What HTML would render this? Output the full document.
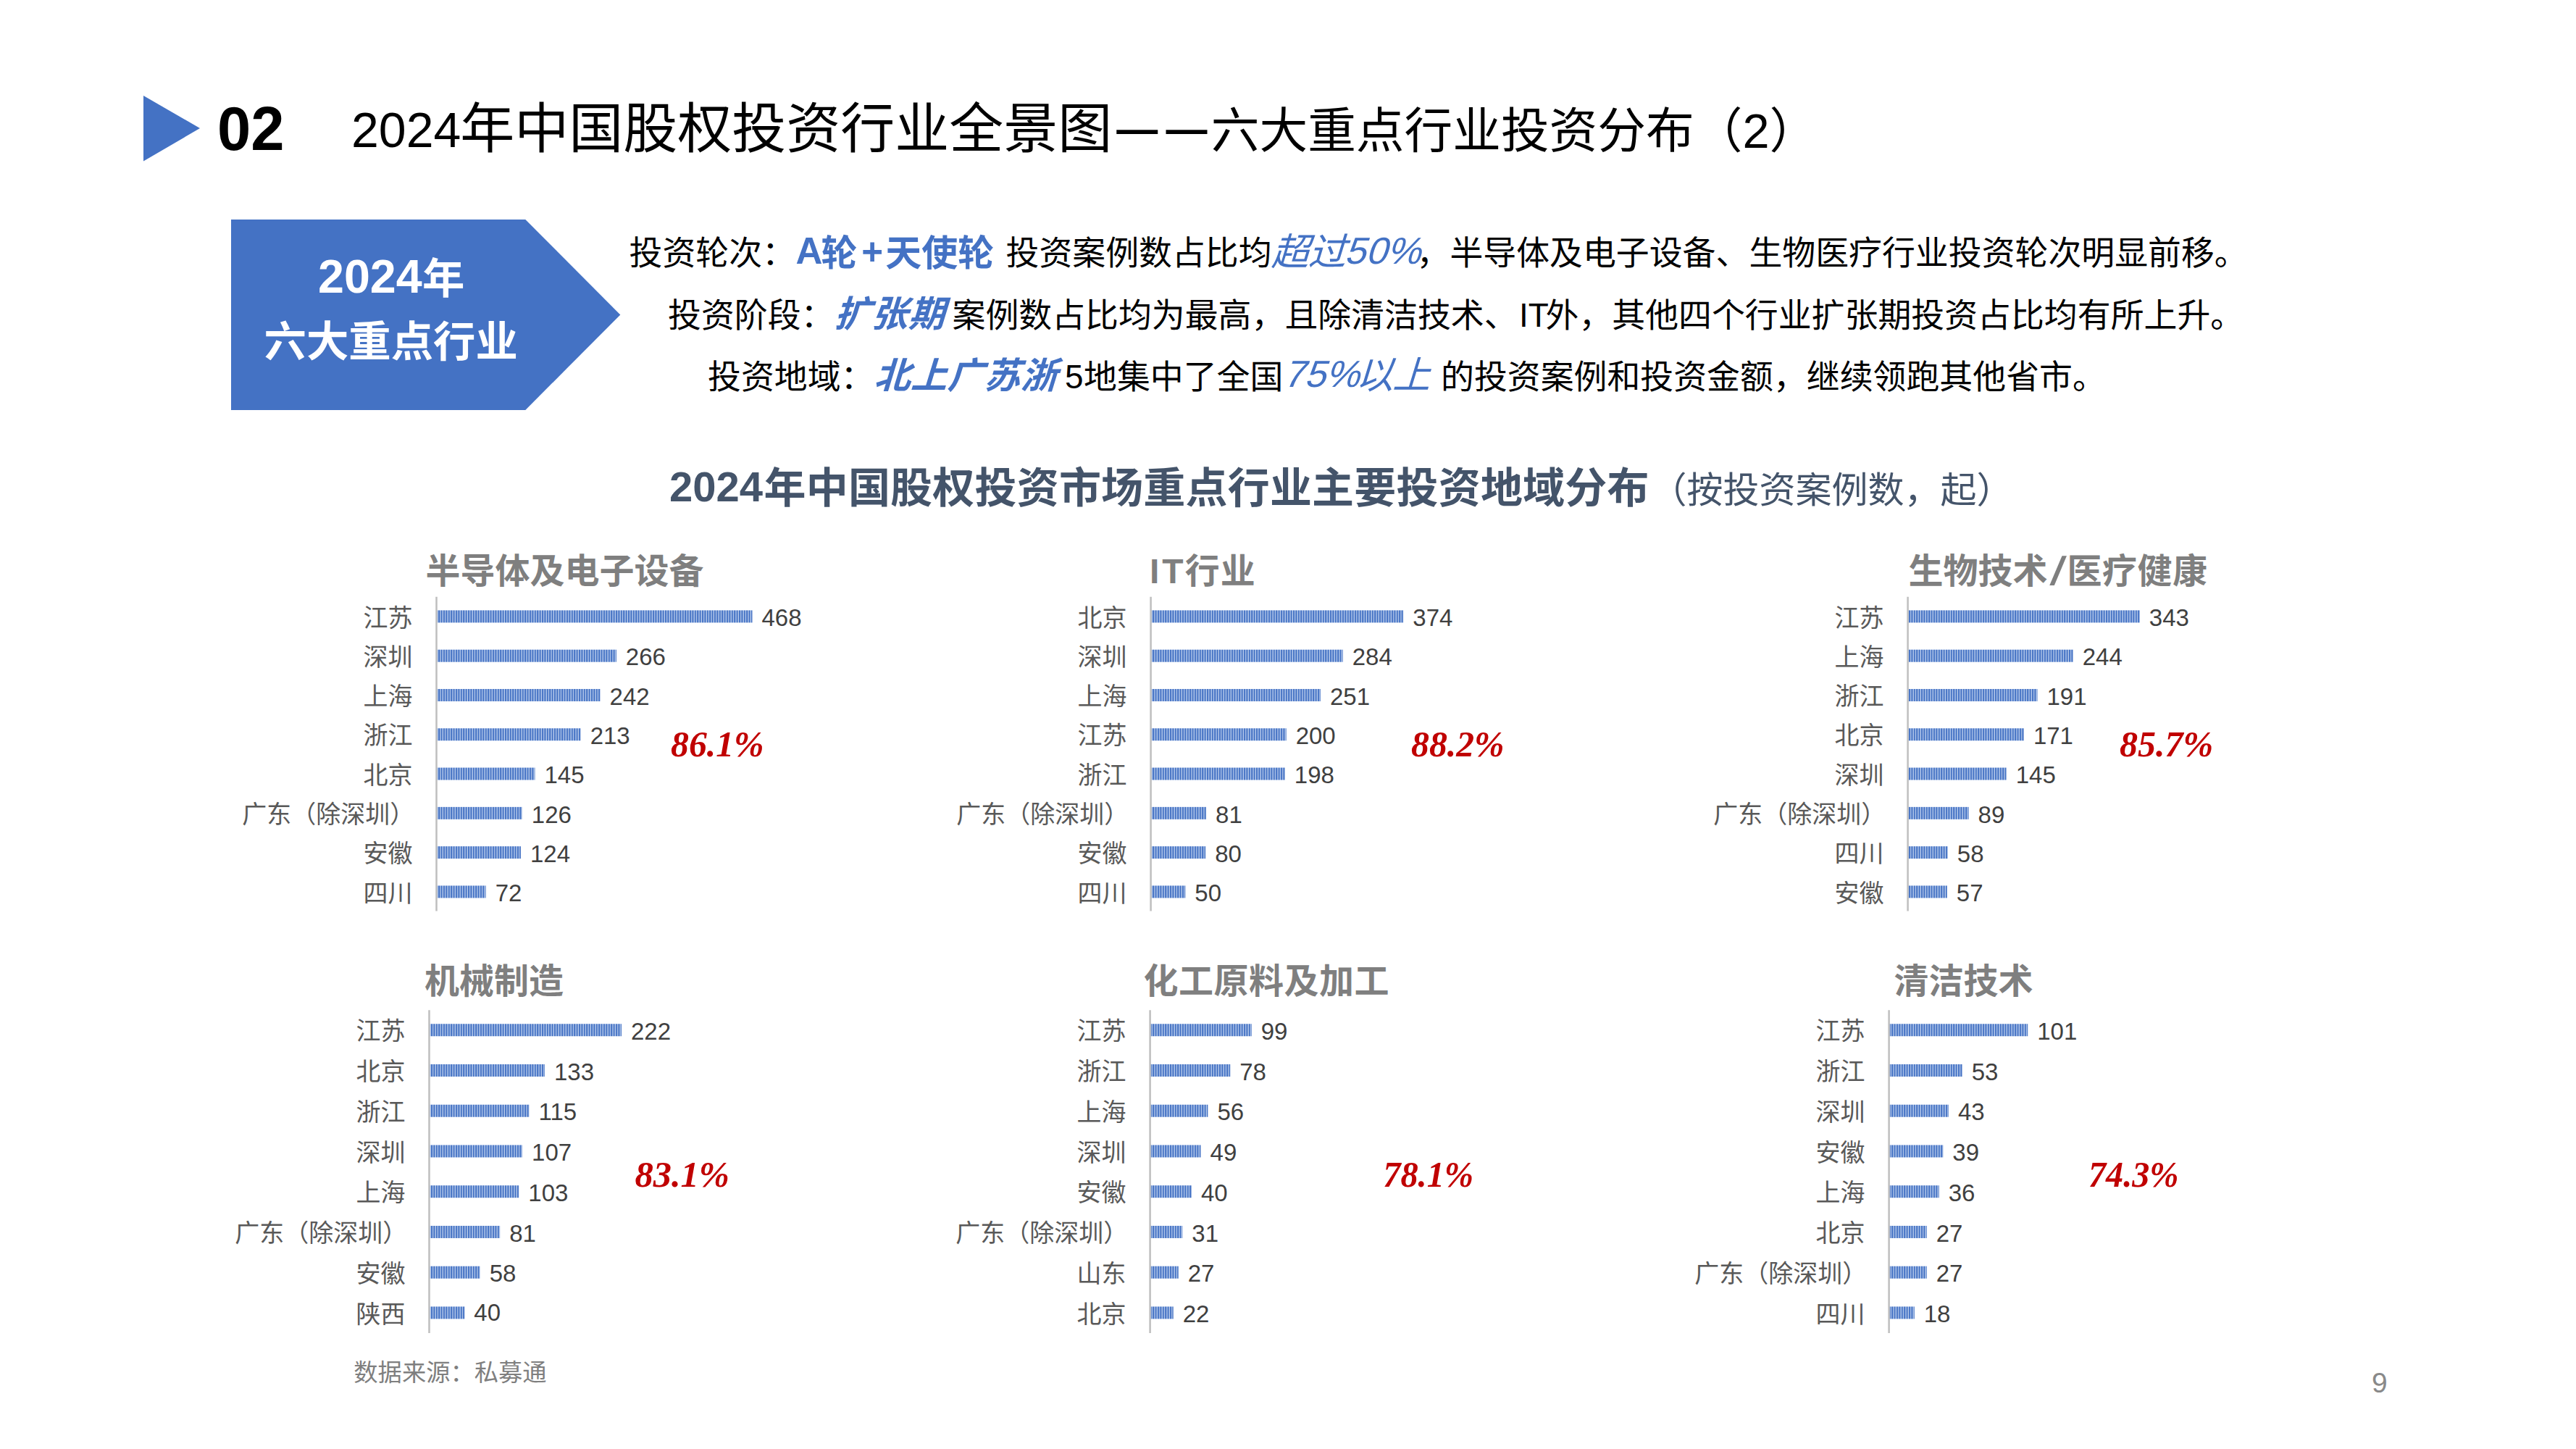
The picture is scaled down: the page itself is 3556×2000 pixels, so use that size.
<!DOCTYPE html>
<html lang="zh-CN"><head><meta charset="utf-8"><title>2024年中国股权投资行业全景图——六大重点行业投资分布（2）</title>
<style>
html,body{margin:0;padding:0;background:#fff;}
body{width:3556px;height:2000px;overflow:hidden;}
svg{display:block;}
svg{font-family:"Liberation Sans","Noto Sans CJK SC",sans-serif;}
svg text{white-space:pre;}
</style></head><body>
<svg width="3556" height="2000" viewBox="0 0 3556 2000">
<defs>
<pattern id="st" patternUnits="userSpaceOnUse" x="0" y="0" width="3.4" height="40">
<rect x="0" y="0" width="3.4" height="40" fill="#BED0EE"/>
<rect x="0" y="0" width="2.1" height="40" fill="#4472C4"/>
</pattern>
</defs>
<rect x="0" y="0" width="3556" height="2000" fill="#fff"/>
<polygon points="198,132 276,177 198,222.5" fill="#4472C4"/>
<text x="300.00" y="207.30" font-size="86" font-weight="bold" textLength="92.5" lengthAdjust="spacingAndGlyphs">02</text>
<text x="485.00" y="203.20" font-size="68">2024</text>
<text x="635.20" y="204.00" font-size="75" style='font-family:"Liberation Sans","Noto Sans CJK SC",sans-serif'>年中国股权投资行业全景图</text>
<text x="1541.25" y="198.40" font-size="57" font-weight="bold">—</text>
<text x="1609.50" y="198.40" font-size="57" font-weight="bold">—</text>
<text x="1671.75" y="204.00" font-size="66.7" style='font-family:"Liberation Sans","Noto Sans CJK SC",sans-serif'>六大重点行业投资分布（</text>
<text x="2405.50" y="204.00" font-size="66.7">2</text>
<text x="2442.50" y="204.00" font-size="66.7" style='font-family:"Liberation Sans","Noto Sans CJK SC",sans-serif'>）</text>
<polygon points="319,303 725.3,303 856.3,434.4 725.3,566 319,566" fill="#4472C4"/>
<text x="439.00" y="403.60" font-size="64.6" fill="#fff" font-weight="bold">2024</text>
<text x="583.00" y="404.50" font-size="58.4" fill="#fff" font-weight="bold" style='font-family:"Liberation Sans","Noto Sans CJK SC",sans-serif'>年</text>
<text x="364.50" y="492.30" font-size="58.4" fill="#fff" font-weight="bold" style='font-family:"Liberation Sans","Noto Sans CJK SC",sans-serif'>六大重点行业</text>
<text x="868.50" y="364.70" font-size="45.9" style='font-family:"Liberation Sans","Noto Sans CJK SC",sans-serif'>投资轮次：</text>
<text x="1098.50" y="364.20" font-size="51" fill="#4472C4" font-weight="bold">A</text>
<text x="1133.50" y="366.80" font-size="50" fill="#4472C4" font-weight="bold" style='font-family:"Liberation Sans","Noto Sans CJK SC",sans-serif'>轮</text>
<text x="1189.20" y="364.50" font-size="51" fill="#4472C4" font-weight="bold">+</text>
<text x="1222.30" y="366.80" font-size="50" fill="#4472C4" font-weight="bold" style='font-family:"Liberation Sans","Noto Sans CJK SC",sans-serif' letter-spacing="0">天使轮</text>
<text x="1388.50" y="364.70" font-size="45.9" style='font-family:"Liberation Sans","Noto Sans CJK SC",sans-serif'>投资案例数占比均</text>
<g transform="translate(1754.40,365.90) skewX(-17)">
<text x="0.00" y="0.00" font-size="52" fill="#4472C4" style='font-family:"Liberation Sans","Noto Sans CJK SC",sans-serif' letter-spacing="-1">超过</text>
</g>
<g transform="translate(1855.50,364.20) skewX(-17)">
<text x="0.00" y="0.00" font-size="52" fill="#4472C4" letter-spacing="0.3">50%</text>
</g>
<text x="1955.50" y="364.70" font-size="45.9" style='font-family:"Liberation Sans","Noto Sans CJK SC",sans-serif'>，半导体及电子设备、生物医疗行业投资轮次明显前移。</text>
<text x="922.00" y="450.90" font-size="45.9" style='font-family:"Liberation Sans","Noto Sans CJK SC",sans-serif'>投资阶段：</text>
<g transform="translate(1151.20,451.00) skewX(-17)">
<text x="0.00" y="0.00" font-size="50" fill="#4472C4" font-weight="bold" style='font-family:"Liberation Sans","Noto Sans CJK SC",sans-serif' letter-spacing="1.2">扩张期</text>
</g>
<text x="1314.50" y="450.90" font-size="45.9" style='font-family:"Liberation Sans","Noto Sans CJK SC",sans-serif'>案例数占比均为最高，且除清洁技术、</text>
<text x="2097.00" y="450.90" font-size="45.9">IT</text>
<text x="2133.50" y="450.90" font-size="45.9" style='font-family:"Liberation Sans","Noto Sans CJK SC",sans-serif'>外，其他四个行业扩张期投资占比均有所上升。</text>
<text x="977.00" y="535.60" font-size="45.9" style='font-family:"Liberation Sans","Noto Sans CJK SC",sans-serif'>投资地域：</text>
<g transform="translate(1206.20,535.50) skewX(-17)">
<text x="0.00" y="0.00" font-size="50" fill="#4472C4" font-weight="bold" style='font-family:"Liberation Sans","Noto Sans CJK SC",sans-serif' letter-spacing="0.6">北上广苏浙</text>
</g>
<text x="1470.00" y="535.60" font-size="45.9">5</text>
<text x="1496.00" y="535.60" font-size="45.9" style='font-family:"Liberation Sans","Noto Sans CJK SC",sans-serif'>地集中了全国</text>
<g transform="translate(1771.00,534.30) skewX(-17)">
<text x="0.00" y="0.00" font-size="52" fill="#4472C4" letter-spacing="0.3">75%</text>
</g>
<g transform="translate(1871.00,536.40) skewX(-17)">
<text x="0.00" y="0.00" font-size="52" fill="#4472C4" style='font-family:"Liberation Sans","Noto Sans CJK SC",sans-serif' letter-spacing="-1">以上</text>
</g>
<text x="1989.00" y="535.60" font-size="45.9" style='font-family:"Liberation Sans","Noto Sans CJK SC",sans-serif'>的投资案例和投资金额，继续领跑其他省市。</text>
<text x="924.00" y="692.10" font-size="58" fill="#44546A" font-weight="bold">2024</text>
<text x="1054.50" y="694.00" font-size="58" fill="#44546A" font-weight="bold" style='font-family:"Liberation Sans","Noto Sans CJK SC",sans-serif' letter-spacing="0.2">年中国股权投资市场重点行业主要投资地域分布</text>
<text x="2278.50" y="694.00" font-size="50" fill="#44546A" style='font-family:"Liberation Sans","Noto Sans CJK SC",sans-serif'>（按投资案例数，起）</text>
<rect x="601.25" y="823.75" width="2.5" height="433.75" fill="#BFBFBF"/>
<text x="587.60" y="804.70" font-size="48" fill="#7F7F7F" font-weight="bold" style='font-family:"Liberation Sans","Noto Sans CJK SC",sans-serif'>半导体及电子设备</text>
<rect x="603.75" y="842.40" width="434.77" height="17" fill="url(#st)"/>
<text x="569.50" y="864.50" font-size="34" fill="#595959" text-anchor="end" style='font-family:"Liberation Sans","Noto Sans CJK SC",sans-serif'>江苏</text>
<text x="1051.52" y="864.10" font-size="33" fill="#404040">468</text>
<rect x="603.75" y="896.69" width="247.11" height="17" fill="url(#st)"/>
<text x="569.50" y="918.79" font-size="34" fill="#595959" text-anchor="end" style='font-family:"Liberation Sans","Noto Sans CJK SC",sans-serif'>深圳</text>
<text x="863.86" y="918.39" font-size="33" fill="#404040">266</text>
<rect x="603.75" y="950.98" width="224.82" height="17" fill="url(#st)"/>
<text x="569.50" y="973.08" font-size="34" fill="#595959" text-anchor="end" style='font-family:"Liberation Sans","Noto Sans CJK SC",sans-serif'>上海</text>
<text x="841.57" y="972.68" font-size="33" fill="#404040">242</text>
<rect x="603.75" y="1005.27" width="197.88" height="17" fill="url(#st)"/>
<text x="569.50" y="1027.37" font-size="34" fill="#595959" text-anchor="end" style='font-family:"Liberation Sans","Noto Sans CJK SC",sans-serif'>浙江</text>
<text x="814.63" y="1026.97" font-size="33" fill="#404040">213</text>
<rect x="603.75" y="1059.56" width="134.71" height="17" fill="url(#st)"/>
<text x="569.50" y="1081.66" font-size="34" fill="#595959" text-anchor="end" style='font-family:"Liberation Sans","Noto Sans CJK SC",sans-serif'>北京</text>
<text x="751.46" y="1081.26" font-size="33" fill="#404040">145</text>
<rect x="603.75" y="1113.85" width="117.05" height="17" fill="url(#st)"/>
<text x="572.20" y="1135.95" font-size="34" fill="#595959" text-anchor="end" style='font-family:"Liberation Sans","Noto Sans CJK SC",sans-serif'>广东（除深圳）</text>
<text x="733.80" y="1135.55" font-size="33" fill="#404040">126</text>
<rect x="603.75" y="1168.14" width="115.20" height="17" fill="url(#st)"/>
<text x="569.50" y="1190.24" font-size="34" fill="#595959" text-anchor="end" style='font-family:"Liberation Sans","Noto Sans CJK SC",sans-serif'>安徽</text>
<text x="731.95" y="1189.84" font-size="33" fill="#404040">124</text>
<rect x="603.75" y="1222.43" width="66.89" height="17" fill="url(#st)"/>
<text x="569.50" y="1244.53" font-size="34" fill="#595959" text-anchor="end" style='font-family:"Liberation Sans","Noto Sans CJK SC",sans-serif'>四川</text>
<text x="683.64" y="1244.13" font-size="33" fill="#404040">72</text>
<text x="926.00" y="1043.50" font-size="50.5" fill="#C00000" font-weight="bold" font-style="italic" style='font-family:"Liberation Serif",serif' textLength="128.6" lengthAdjust="spacingAndGlyphs">86.1%</text>
<rect x="1587.35" y="823.75" width="2.5" height="433.75" fill="#BFBFBF"/>
<text x="1587.00" y="804.70" font-size="48" fill="#7F7F7F" font-weight="bold" letter-spacing="4">IT</text>
<text x="1635.70" y="804.70" font-size="48" fill="#7F7F7F" font-weight="bold" style='font-family:"Liberation Sans","Noto Sans CJK SC",sans-serif' letter-spacing="1">行业</text>
<rect x="1589.85" y="842.40" width="347.45" height="17" fill="url(#st)"/>
<text x="1555.60" y="864.50" font-size="34" fill="#595959" text-anchor="end" style='font-family:"Liberation Sans","Noto Sans CJK SC",sans-serif'>北京</text>
<text x="1950.30" y="864.10" font-size="33" fill="#404040">374</text>
<rect x="1589.85" y="896.69" width="263.84" height="17" fill="url(#st)"/>
<text x="1555.60" y="918.79" font-size="34" fill="#595959" text-anchor="end" style='font-family:"Liberation Sans","Noto Sans CJK SC",sans-serif'>深圳</text>
<text x="1866.69" y="918.39" font-size="33" fill="#404040">284</text>
<rect x="1589.85" y="950.98" width="233.18" height="17" fill="url(#st)"/>
<text x="1555.60" y="973.08" font-size="34" fill="#595959" text-anchor="end" style='font-family:"Liberation Sans","Noto Sans CJK SC",sans-serif'>上海</text>
<text x="1836.03" y="972.68" font-size="33" fill="#404040">251</text>
<rect x="1589.85" y="1005.27" width="185.80" height="17" fill="url(#st)"/>
<text x="1555.60" y="1027.37" font-size="34" fill="#595959" text-anchor="end" style='font-family:"Liberation Sans","Noto Sans CJK SC",sans-serif'>江苏</text>
<text x="1788.65" y="1026.97" font-size="33" fill="#404040">200</text>
<rect x="1589.85" y="1059.56" width="183.94" height="17" fill="url(#st)"/>
<text x="1555.60" y="1081.66" font-size="34" fill="#595959" text-anchor="end" style='font-family:"Liberation Sans","Noto Sans CJK SC",sans-serif'>浙江</text>
<text x="1786.79" y="1081.26" font-size="33" fill="#404040">198</text>
<rect x="1589.85" y="1113.85" width="75.25" height="17" fill="url(#st)"/>
<text x="1558.30" y="1135.95" font-size="34" fill="#595959" text-anchor="end" style='font-family:"Liberation Sans","Noto Sans CJK SC",sans-serif'>广东（除深圳）</text>
<text x="1678.10" y="1135.55" font-size="33" fill="#404040">81</text>
<rect x="1589.85" y="1168.14" width="74.32" height="17" fill="url(#st)"/>
<text x="1555.60" y="1190.24" font-size="34" fill="#595959" text-anchor="end" style='font-family:"Liberation Sans","Noto Sans CJK SC",sans-serif'>安徽</text>
<text x="1677.17" y="1189.84" font-size="33" fill="#404040">80</text>
<rect x="1589.85" y="1222.43" width="46.45" height="17" fill="url(#st)"/>
<text x="1555.60" y="1244.53" font-size="34" fill="#595959" text-anchor="end" style='font-family:"Liberation Sans","Noto Sans CJK SC",sans-serif'>四川</text>
<text x="1649.30" y="1244.13" font-size="33" fill="#404040">50</text>
<text x="1948.00" y="1043.50" font-size="50.5" fill="#C00000" font-weight="bold" font-style="italic" style='font-family:"Liberation Serif",serif' textLength="128.6" lengthAdjust="spacingAndGlyphs">88.2%</text>
<rect x="2632.35" y="823.75" width="2.5" height="433.75" fill="#BFBFBF"/>
<text x="2634.60" y="804.70" font-size="48" fill="#7F7F7F" font-weight="bold" style='font-family:"Liberation Sans","Noto Sans CJK SC",sans-serif'>生物技术</text>
<g transform="translate(2829,806.70) skewX(-13)"><text x="0" y="0" font-size="55" fill="#7F7F7F" font-weight="bold">/</text></g>
<text x="2853.60" y="804.70" font-size="48" fill="#7F7F7F" font-weight="bold" style='font-family:"Liberation Sans","Noto Sans CJK SC",sans-serif' letter-spacing="0.5">医疗健康</text>
<rect x="2634.85" y="842.40" width="318.99" height="17" fill="url(#st)"/>
<text x="2600.60" y="864.50" font-size="34" fill="#595959" text-anchor="end" style='font-family:"Liberation Sans","Noto Sans CJK SC",sans-serif'>江苏</text>
<text x="2966.84" y="864.10" font-size="33" fill="#404040">343</text>
<rect x="2634.85" y="896.69" width="226.92" height="17" fill="url(#st)"/>
<text x="2600.60" y="918.79" font-size="34" fill="#595959" text-anchor="end" style='font-family:"Liberation Sans","Noto Sans CJK SC",sans-serif'>上海</text>
<text x="2874.77" y="918.39" font-size="33" fill="#404040">244</text>
<rect x="2634.85" y="950.98" width="177.63" height="17" fill="url(#st)"/>
<text x="2600.60" y="973.08" font-size="34" fill="#595959" text-anchor="end" style='font-family:"Liberation Sans","Noto Sans CJK SC",sans-serif'>浙江</text>
<text x="2825.48" y="972.68" font-size="33" fill="#404040">191</text>
<rect x="2634.85" y="1005.27" width="159.03" height="17" fill="url(#st)"/>
<text x="2600.60" y="1027.37" font-size="34" fill="#595959" text-anchor="end" style='font-family:"Liberation Sans","Noto Sans CJK SC",sans-serif'>北京</text>
<text x="2806.88" y="1026.97" font-size="33" fill="#404040">171</text>
<rect x="2634.85" y="1059.56" width="134.85" height="17" fill="url(#st)"/>
<text x="2600.60" y="1081.66" font-size="34" fill="#595959" text-anchor="end" style='font-family:"Liberation Sans","Noto Sans CJK SC",sans-serif'>深圳</text>
<text x="2782.70" y="1081.26" font-size="33" fill="#404040">145</text>
<rect x="2634.85" y="1113.85" width="82.77" height="17" fill="url(#st)"/>
<text x="2603.30" y="1135.95" font-size="34" fill="#595959" text-anchor="end" style='font-family:"Liberation Sans","Noto Sans CJK SC",sans-serif'>广东（除深圳）</text>
<text x="2730.62" y="1135.55" font-size="33" fill="#404040">89</text>
<rect x="2634.85" y="1168.14" width="53.94" height="17" fill="url(#st)"/>
<text x="2600.60" y="1190.24" font-size="34" fill="#595959" text-anchor="end" style='font-family:"Liberation Sans","Noto Sans CJK SC",sans-serif'>四川</text>
<text x="2701.79" y="1189.84" font-size="33" fill="#404040">58</text>
<rect x="2634.85" y="1222.43" width="53.01" height="17" fill="url(#st)"/>
<text x="2600.60" y="1244.53" font-size="34" fill="#595959" text-anchor="end" style='font-family:"Liberation Sans","Noto Sans CJK SC",sans-serif'>安徽</text>
<text x="2700.86" y="1244.13" font-size="33" fill="#404040">57</text>
<text x="2926.00" y="1043.50" font-size="50.5" fill="#C00000" font-weight="bold" font-style="italic" style='font-family:"Liberation Serif",serif' textLength="129.2" lengthAdjust="spacingAndGlyphs">85.7%</text>
<rect x="591.25" y="1394.25" width="2.5" height="445.75" fill="#BFBFBF"/>
<text x="586.10" y="1371.10" font-size="48" fill="#7F7F7F" font-weight="bold" style='font-family:"Liberation Sans","Noto Sans CJK SC",sans-serif'>机械制造</text>
<rect x="593.75" y="1413.25" width="264.18" height="17" fill="url(#st)"/>
<text x="559.50" y="1435.35" font-size="34" fill="#595959" text-anchor="end" style='font-family:"Liberation Sans","Noto Sans CJK SC",sans-serif'>江苏</text>
<text x="870.93" y="1434.95" font-size="33" fill="#404040">222</text>
<rect x="593.75" y="1468.99" width="158.27" height="17" fill="url(#st)"/>
<text x="559.50" y="1491.09" font-size="34" fill="#595959" text-anchor="end" style='font-family:"Liberation Sans","Noto Sans CJK SC",sans-serif'>北京</text>
<text x="765.02" y="1490.69" font-size="33" fill="#404040">133</text>
<rect x="593.75" y="1524.73" width="136.85" height="17" fill="url(#st)"/>
<text x="559.50" y="1546.83" font-size="34" fill="#595959" text-anchor="end" style='font-family:"Liberation Sans","Noto Sans CJK SC",sans-serif'>浙江</text>
<text x="743.60" y="1546.43" font-size="33" fill="#404040">115</text>
<rect x="593.75" y="1580.47" width="127.33" height="17" fill="url(#st)"/>
<text x="559.50" y="1602.57" font-size="34" fill="#595959" text-anchor="end" style='font-family:"Liberation Sans","Noto Sans CJK SC",sans-serif'>深圳</text>
<text x="734.08" y="1602.17" font-size="33" fill="#404040">107</text>
<rect x="593.75" y="1636.21" width="122.57" height="17" fill="url(#st)"/>
<text x="559.50" y="1658.31" font-size="34" fill="#595959" text-anchor="end" style='font-family:"Liberation Sans","Noto Sans CJK SC",sans-serif'>上海</text>
<text x="729.32" y="1657.91" font-size="33" fill="#404040">103</text>
<rect x="593.75" y="1691.95" width="96.39" height="17" fill="url(#st)"/>
<text x="562.20" y="1714.05" font-size="34" fill="#595959" text-anchor="end" style='font-family:"Liberation Sans","Noto Sans CJK SC",sans-serif'>广东（除深圳）</text>
<text x="703.14" y="1713.65" font-size="33" fill="#404040">81</text>
<rect x="593.75" y="1747.69" width="69.02" height="17" fill="url(#st)"/>
<text x="559.50" y="1769.79" font-size="34" fill="#595959" text-anchor="end" style='font-family:"Liberation Sans","Noto Sans CJK SC",sans-serif'>安徽</text>
<text x="675.77" y="1769.39" font-size="33" fill="#404040">58</text>
<rect x="593.75" y="1803.43" width="47.60" height="17" fill="url(#st)"/>
<text x="559.50" y="1825.53" font-size="34" fill="#595959" text-anchor="end" style='font-family:"Liberation Sans","Noto Sans CJK SC",sans-serif'>陕西</text>
<text x="654.35" y="1822.63" font-size="33" fill="#404040">40</text>
<text x="876.40" y="1638.20" font-size="50.5" fill="#C00000" font-weight="bold" font-style="italic" style='font-family:"Liberation Serif",serif'>83.1%</text>
<rect x="1586.35" y="1394.25" width="2.5" height="445.75" fill="#BFBFBF"/>
<text x="1578.60" y="1371.10" font-size="48" fill="#7F7F7F" font-weight="bold" style='font-family:"Liberation Sans","Noto Sans CJK SC",sans-serif' letter-spacing="0.5">化工原料及加工</text>
<rect x="1588.85" y="1413.25" width="138.90" height="17" fill="url(#st)"/>
<text x="1554.60" y="1435.35" font-size="34" fill="#595959" text-anchor="end" style='font-family:"Liberation Sans","Noto Sans CJK SC",sans-serif'>江苏</text>
<text x="1740.75" y="1434.95" font-size="33" fill="#404040">99</text>
<rect x="1588.85" y="1468.99" width="109.43" height="17" fill="url(#st)"/>
<text x="1554.60" y="1491.09" font-size="34" fill="#595959" text-anchor="end" style='font-family:"Liberation Sans","Noto Sans CJK SC",sans-serif'>浙江</text>
<text x="1711.28" y="1490.69" font-size="33" fill="#404040">78</text>
<rect x="1588.85" y="1524.73" width="78.57" height="17" fill="url(#st)"/>
<text x="1554.60" y="1546.83" font-size="34" fill="#595959" text-anchor="end" style='font-family:"Liberation Sans","Noto Sans CJK SC",sans-serif'>上海</text>
<text x="1680.42" y="1546.43" font-size="33" fill="#404040">56</text>
<rect x="1588.85" y="1580.47" width="68.75" height="17" fill="url(#st)"/>
<text x="1554.60" y="1602.57" font-size="34" fill="#595959" text-anchor="end" style='font-family:"Liberation Sans","Noto Sans CJK SC",sans-serif'>深圳</text>
<text x="1670.60" y="1602.17" font-size="33" fill="#404040">49</text>
<rect x="1588.85" y="1636.21" width="56.12" height="17" fill="url(#st)"/>
<text x="1554.60" y="1658.31" font-size="34" fill="#595959" text-anchor="end" style='font-family:"Liberation Sans","Noto Sans CJK SC",sans-serif'>安徽</text>
<text x="1657.97" y="1657.91" font-size="33" fill="#404040">40</text>
<rect x="1588.85" y="1691.95" width="43.49" height="17" fill="url(#st)"/>
<text x="1557.30" y="1714.05" font-size="34" fill="#595959" text-anchor="end" style='font-family:"Liberation Sans","Noto Sans CJK SC",sans-serif'>广东（除深圳）</text>
<text x="1645.34" y="1713.65" font-size="33" fill="#404040">31</text>
<rect x="1588.85" y="1747.69" width="37.88" height="17" fill="url(#st)"/>
<text x="1554.60" y="1769.79" font-size="34" fill="#595959" text-anchor="end" style='font-family:"Liberation Sans","Noto Sans CJK SC",sans-serif'>山东</text>
<text x="1639.73" y="1769.39" font-size="33" fill="#404040">27</text>
<rect x="1588.85" y="1803.43" width="30.87" height="17" fill="url(#st)"/>
<text x="1554.60" y="1825.53" font-size="34" fill="#595959" text-anchor="end" style='font-family:"Liberation Sans","Noto Sans CJK SC",sans-serif'>北京</text>
<text x="1632.72" y="1825.13" font-size="33" fill="#404040">22</text>
<text x="1909.30" y="1638.20" font-size="50.5" fill="#C00000" font-weight="bold" font-style="italic" style='font-family:"Liberation Serif",serif' textLength="124.8" lengthAdjust="spacingAndGlyphs">78.1%</text>
<rect x="2606.35" y="1394.25" width="2.5" height="445.75" fill="#BFBFBF"/>
<text x="2614.60" y="1371.10" font-size="48" fill="#7F7F7F" font-weight="bold" style='font-family:"Liberation Sans","Noto Sans CJK SC",sans-serif'>清洁技术</text>
<rect x="2608.85" y="1413.25" width="190.38" height="17" fill="url(#st)"/>
<text x="2574.60" y="1435.35" font-size="34" fill="#595959" text-anchor="end" style='font-family:"Liberation Sans","Noto Sans CJK SC",sans-serif'>江苏</text>
<text x="2812.23" y="1434.95" font-size="33" fill="#404040">101</text>
<rect x="2608.85" y="1468.99" width="99.91" height="17" fill="url(#st)"/>
<text x="2574.60" y="1491.09" font-size="34" fill="#595959" text-anchor="end" style='font-family:"Liberation Sans","Noto Sans CJK SC",sans-serif'>浙江</text>
<text x="2721.76" y="1490.69" font-size="33" fill="#404040">53</text>
<rect x="2608.85" y="1524.73" width="81.06" height="17" fill="url(#st)"/>
<text x="2574.60" y="1546.83" font-size="34" fill="#595959" text-anchor="end" style='font-family:"Liberation Sans","Noto Sans CJK SC",sans-serif'>深圳</text>
<text x="2702.90" y="1546.43" font-size="33" fill="#404040">43</text>
<rect x="2608.85" y="1580.47" width="73.52" height="17" fill="url(#st)"/>
<text x="2574.60" y="1602.57" font-size="34" fill="#595959" text-anchor="end" style='font-family:"Liberation Sans","Noto Sans CJK SC",sans-serif'>安徽</text>
<text x="2695.36" y="1602.17" font-size="33" fill="#404040">39</text>
<rect x="2608.85" y="1636.21" width="67.86" height="17" fill="url(#st)"/>
<text x="2574.60" y="1658.31" font-size="34" fill="#595959" text-anchor="end" style='font-family:"Liberation Sans","Noto Sans CJK SC",sans-serif'>上海</text>
<text x="2689.71" y="1657.91" font-size="33" fill="#404040">36</text>
<rect x="2608.85" y="1691.95" width="50.90" height="17" fill="url(#st)"/>
<text x="2574.60" y="1714.05" font-size="34" fill="#595959" text-anchor="end" style='font-family:"Liberation Sans","Noto Sans CJK SC",sans-serif'>北京</text>
<text x="2672.74" y="1713.65" font-size="33" fill="#404040">27</text>
<rect x="2608.85" y="1747.69" width="50.90" height="17" fill="url(#st)"/>
<text x="2577.30" y="1769.79" font-size="34" fill="#595959" text-anchor="end" style='font-family:"Liberation Sans","Noto Sans CJK SC",sans-serif'>广东（除深圳）</text>
<text x="2672.74" y="1769.39" font-size="33" fill="#404040">27</text>
<rect x="2608.85" y="1803.43" width="33.93" height="17" fill="url(#st)"/>
<text x="2574.60" y="1825.53" font-size="34" fill="#595959" text-anchor="end" style='font-family:"Liberation Sans","Noto Sans CJK SC",sans-serif'>四川</text>
<text x="2655.78" y="1825.13" font-size="33" fill="#404040">18</text>
<text x="2882.90" y="1638.20" font-size="50.5" fill="#C00000" font-weight="bold" font-style="italic" style='font-family:"Liberation Serif",serif' textLength="124.6" lengthAdjust="spacingAndGlyphs">74.3%</text>
<text x="488.30" y="1906.20" font-size="33.3" fill="#7F7F7F" style='font-family:"Liberation Sans","Noto Sans CJK SC",sans-serif'>数据来源：私募通</text>
<text x="3274.00" y="1921.50" font-size="39" fill="#898989">9</text>
</svg>
</body></html>
